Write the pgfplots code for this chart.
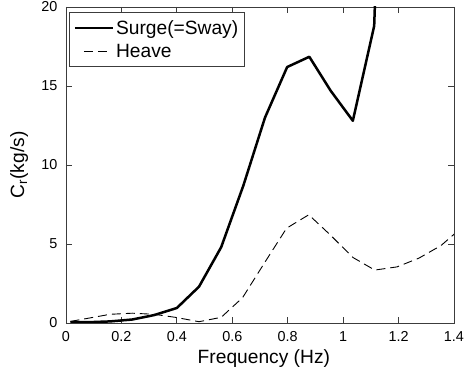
\documentclass[border=0pt]{standalone}
\usepackage{pgfplots}
\pgfplotsset{compat=1.18}
\usepackage{fontspec}
\setmainfont{Liberation Sans}
\definecolor{axgray}{RGB}{60,60,60}
\begin{document}
\begin{tikzpicture}
\begin{axis}[
  scale only axis,
  width=388pt, height=316pt,
  xmin=0, xmax=1.4, ymin=0, ymax=20,
  xtick={0,0.2,0.4,0.6,0.8,1,1.2,1.4},
  xticklabels={0,0.2,0.4,0.6,0.8,1,1.2,1.4},
  ytick={0,5,10,15,20},
  tick align=inside,
  major tick length=6pt,
  axis line style={axgray, line width=0.9pt},
  every tick/.style={axgray, line width=0.9pt},
  tick label style={font=\fontsize{14.4}{16}\selectfont},
  /pgf/number format/assume math mode=true,
  xticklabel style={yshift=-5pt},
  yticklabel style={xshift=-5pt},
  xlabel={Frequency (Hz)},
  ylabel={C\textsubscript{r}(kg/s)},
  every axis x label/.style={at={(axis description cs:0.51,-0.111)}, anchor=center, font=\fontsize{19.2}{22}\selectfont},
  every axis y label/.style={at={(axis description cs:-0.121,0.5)}, rotate=90, anchor=center, font=\fontsize{19.2}{22}\selectfont},
  legend style={at={(axis description cs:0.008,0.984)}, anchor=north west,
    draw=axgray, line width=0.9pt, font=\fontsize{19.2}{22}\selectfont,
    inner xsep=4pt, inner ysep=6pt, row sep=4pt},
  legend cell align=left,
  legend image code/.code={\draw[#1] (0pt,0pt) -- (38pt,0pt);},
  clip=true,
]
\addplot[black, line width=2.5pt, line join=round] coordinates {
(0.016,0.05) (0.080,0.05) (0.159,0.10) (0.239,0.22) (0.318,0.50) (0.400,0.95)
(0.480,2.30) (0.560,4.80) (0.640,8.70) (0.718,13.0) (0.798,16.2) (0.878,16.85)
(0.955,14.7) (1.035,12.8) (1.112,18.8) (1.194,60.0)
};
\addlegendentry{Surge(=Sway)}
\addplot[black, line width=0.9pt, dash pattern=on 9pt off 5pt,
  legend image code/.code={\draw[black, line width=0.9pt] (9pt,0pt) -- (18pt,0pt) (23pt,0pt) -- (35pt,0pt);}] coordinates {
(0.016,0.10) (0.080,0.30) (0.159,0.55) (0.239,0.62) (0.318,0.55) (0.398,0.35)
(0.480,0.08) (0.560,0.36) (0.637,1.60) (0.716,3.80) (0.796,6.00) (0.876,6.85)
(0.955,5.55) (1.035,4.15) (1.114,3.35) (1.194,3.55) (1.273,4.10) (1.353,4.90)
(1.432,6.10)
};
\addlegendentry{Heave}
\end{axis}
\pgfresetboundingbox
\path[use as bounding box] (-66pt,-51pt) rectangle (398pt,323pt);
\end{tikzpicture}
\end{document}
